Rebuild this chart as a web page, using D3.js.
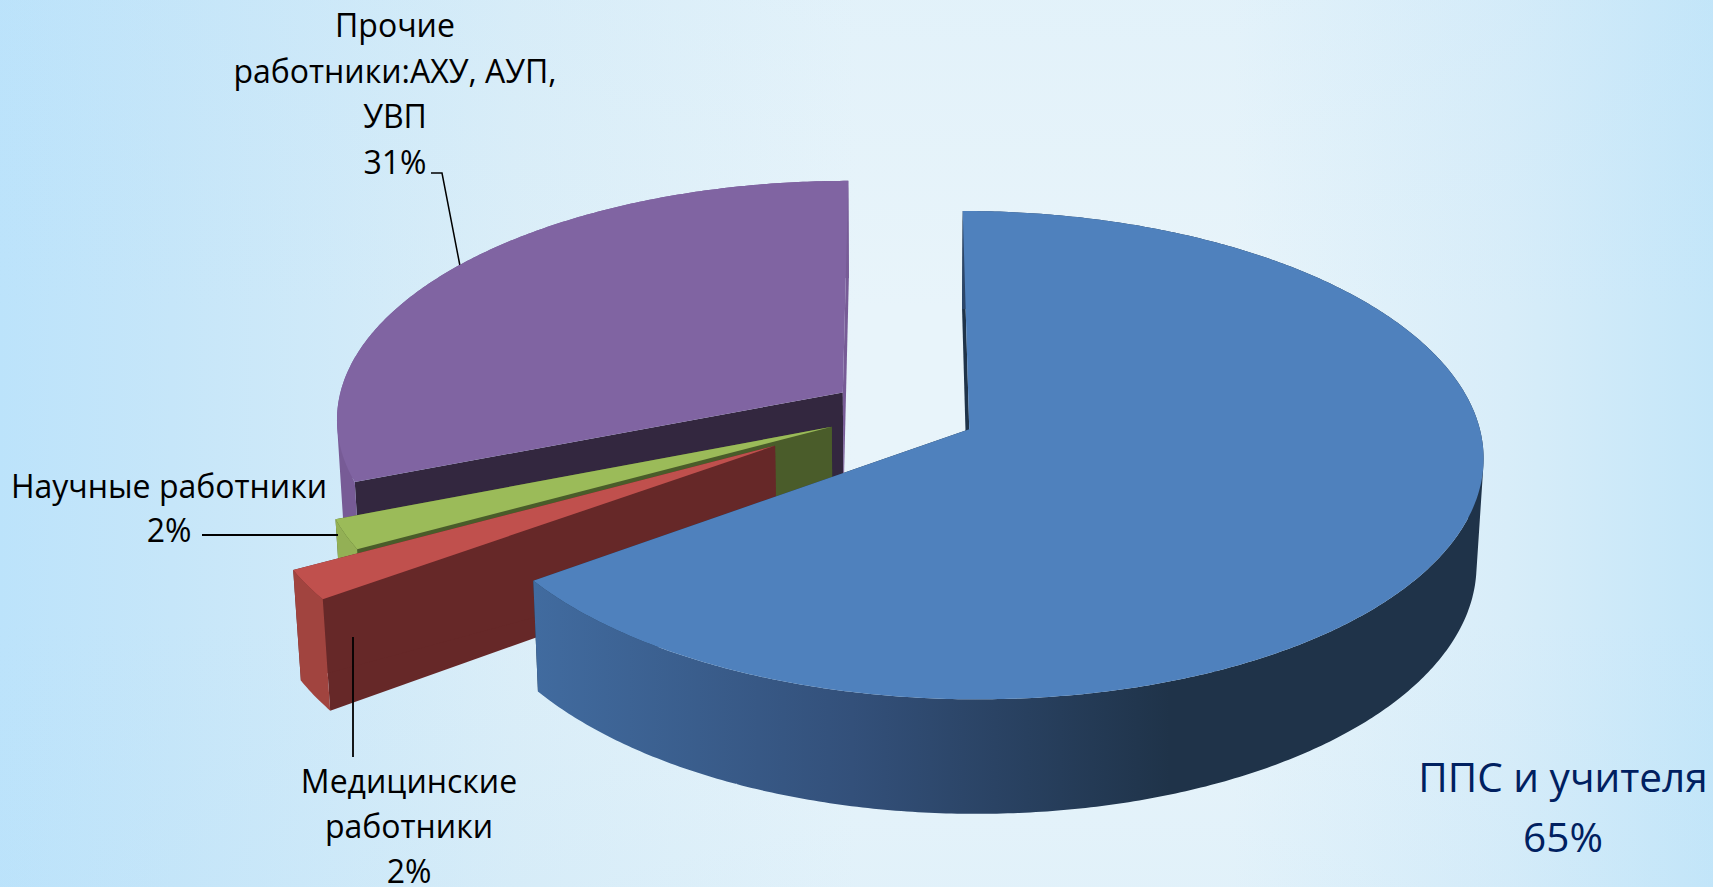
<!DOCTYPE html>
<html>
<head>
<meta charset="utf-8">
<script src="https://cdn.jsdelivr.net/npm/d3@7"></script>
<style>
  html, body { margin: 0; padding: 0; overflow: hidden; background: #e8f4fa; }
  text { font-family: "Open Sans", sans-serif; }
</style>
</head>
<body>
<div id="chart"></div>
<script>
const categories = ["ППС и учителя", "Медицинские работники", "Научные работники", "Прочие работники:АХУ, АУП, УВП"];
const shares = [65, 2, 2, 31];
const explodes = [0.15, 0.29, 0.15, 0.14];
const nudges = [0, -0.02, -0.006, -0.008];

const topColors = ["#4f81bd", "#c0504d", "#9bbb59", "#8064a2"];
const rimColors = ["url(#blue-rim)", "#a1443f", "#93b055", "#775b96"];
const startFaceColors = ["#1f3349", "#662828", "#4a5c2a", "#33273f"];
const endFaceColors = ["#1f3349", "#662828", "#4a5c2a", "#775b96"];

const width = 1713;
const height = 887;

// pie geometry, fitted to the picture
const cx = 901, cy = 413, radiusX = 507, radiusY = 238, depth = 106.5;
const perspective = 0.105, shrink = 0.012;

const svg = d3.select("#chart").append("svg")
  .attr("width", width)
  .attr("height", height)
  .style("display", "block");

const defs = svg.append("defs");

const bgStops = [[0, "#bce3fb"], [0.1, "#c6e6f9"], [0.3, "#dbeef8"], [0.5, "#e8f4fa"], [0.72, "#e8f4fa"], [0.88, "#d8edf9"], [1, "#c4e6f9"]];
const bg = defs.append("linearGradient").attr("id", "bg");
bg.selectAll("stop").data(bgStops).join("stop")
  .attr("offset", d => d[0])
  .attr("stop-color", d => d[1]);

const bgV = defs.append("linearGradient").attr("id", "bg-v")
  .attr("x1", 0).attr("x2", 0).attr("y1", 0).attr("y2", 1);
bgV.selectAll("stop").data([[0, 0.12], [0.35, 0], [0.7, 0], [1, 0.14]]).join("stop")
  .attr("offset", d => d[0])
  .attr("stop-color", "#b8e0f8")
  .attr("stop-opacity", d => d[1]);

const rimGrad = defs.append("linearGradient").attr("id", "blue-rim")
  .attr("gradientUnits", "userSpaceOnUse")
  .attr("x1", 535).attr("x2", 1170).attr("y1", 0).attr("y2", 0);
rimGrad.selectAll("stop").data([[0, "#416b9f"], [0.5, "#33507a"], [1, "#1f3349"]]).join("stop")
  .attr("offset", d => d[0])
  .attr("stop-color", d => d[1]);

svg.append("rect").attr("width", width).attr("height", height).attr("fill", "url(#bg)");
svg.append("rect").attr("width", width).attr("height", height).attr("fill", "url(#bg-v)");

const x = d3.scaleLinear().domain([-1, 1]).range([cx - radiusX, cx + radiusX]);
const y = d3.scaleLinear().domain([-1, 1]).range([cy - radiusY, cy + radiusY]);
const line = d3.line();

// point on a slice: r 0..1 out from its apex, z 0 on top, 1 on the bottom
function project(angle, r, shift, z) {
  const px = shift[0] + r * Math.sin(angle);
  const py = shift[1] - r * Math.cos(angle);
  const w = 1 - perspective * py + shrink * z;
  return [x(px / w), y((py + (depth / radiusY) * z) / w)];
}

function rim(a0, a1, shift, z) {
  const n = Math.max(4, Math.ceil((a1 - a0) / 0.01));
  return d3.range(n + 1).map(i => project(a0 + (a1 - a0) * i / n, 1, shift, z));
}

// outer wall as small quads, all wound the same way so the silhouette fills
function wall(a0, a1, shift) {
  const top = rim(a0, a1, shift, 0);
  const bottom = rim(a0, a1, shift, 1);
  return d3.range(top.length - 1).map(i => {
    const quad = [top[i], top[i + 1], bottom[i + 1], bottom[i]];
    if (d3.polygonArea(quad) < 0) quad.reverse();
    return line(quad) + "Z";
  }).join("");
}

const pie = d3.pie().sort(null).startAngle(0).endAngle(2 * Math.PI);
const slices = pie(shares).map((d, i) => {
  const mid = (d.startAngle + d.endAngle) / 2;
  return { ...d, i, shift: [explodes[i] * Math.sin(mid), -explodes[i] * Math.cos(mid) + nudges[i]] };
});

// leaders that sit behind the pie
const leaders = svg.append("g").attr("fill", "none").attr("stroke", "#000");
leaders.append("path").attr("d", "M431,173H442L460,266").attr("stroke-width", 1.5);
leaders.append("path").attr("d", "M1215,640V747").attr("stroke-width", 1.2);

// back to front: purple, green, red, blue
const pieG = svg.append("g");
[3, 2, 1, 0].forEach(i => {
  const s = slices[i];
  const face = (a, fill) => pieG.append("path")
    .attr("d", line([
      project(a, 0, s.shift, 0), project(a, 1, s.shift, 0),
      project(a, 1, s.shift, 1), project(a, 0, s.shift, 1)
    ]) + "Z")
    .attr("fill", fill);
  face(s.startAngle, startFaceColors[i]);
  face(s.endAngle, endFaceColors[i]);

  pieG.append("path")
    .attr("d", wall(s.startAngle, s.endAngle, s.shift))
    .attr("fill", rimColors[i]);

  pieG.append("path")
    .attr("d", line([project(0, 0, s.shift, 0)].concat(rim(s.startAngle, s.endAngle, s.shift, 0))) + "Z")
    .attr("fill", topColors[i]);
});

// leaders on top of the pie
svg.append("path").attr("d", "M202,535H338").attr("stroke", "#000").attr("stroke-width", 1.8);
svg.append("path").attr("d", "M353,637V757").attr("stroke", "#000").attr("stroke-width", 1.8);

const labelLines = [
  ["ППС и учителя", "65%"],
  ["Медицинские", "работники", "2%"],
  ["Научные работники", "2%"],
  ["Прочие", "работники:АХУ, АУП,", "УВП", "31%"]
];
const labelSpots = [
  { x: 1563, y: 792, step: 60, size: 40.5, fill: "#002060" },
  { x: 409, y: 793, step: 45, size: 32, fill: "#000" },
  { x: 169, y: 498, step: 44, size: 32, fill: "#000" },
  { x: 395, y: 37, step: 45.5, size: 32, fill: "#000" }
];

labelLines.forEach((lines, i) => {
  const spot = labelSpots[i];
  svg.append("g").selectAll("text").data(lines).join("text")
    .attr("x", spot.x)
    .attr("y", (d, j) => spot.y + j * spot.step)
    .attr("text-anchor", "middle")
    .attr("font-size", spot.size)
    .attr("fill", spot.fill)
    .text(d => d);
});
</script>
</body>
</html>
